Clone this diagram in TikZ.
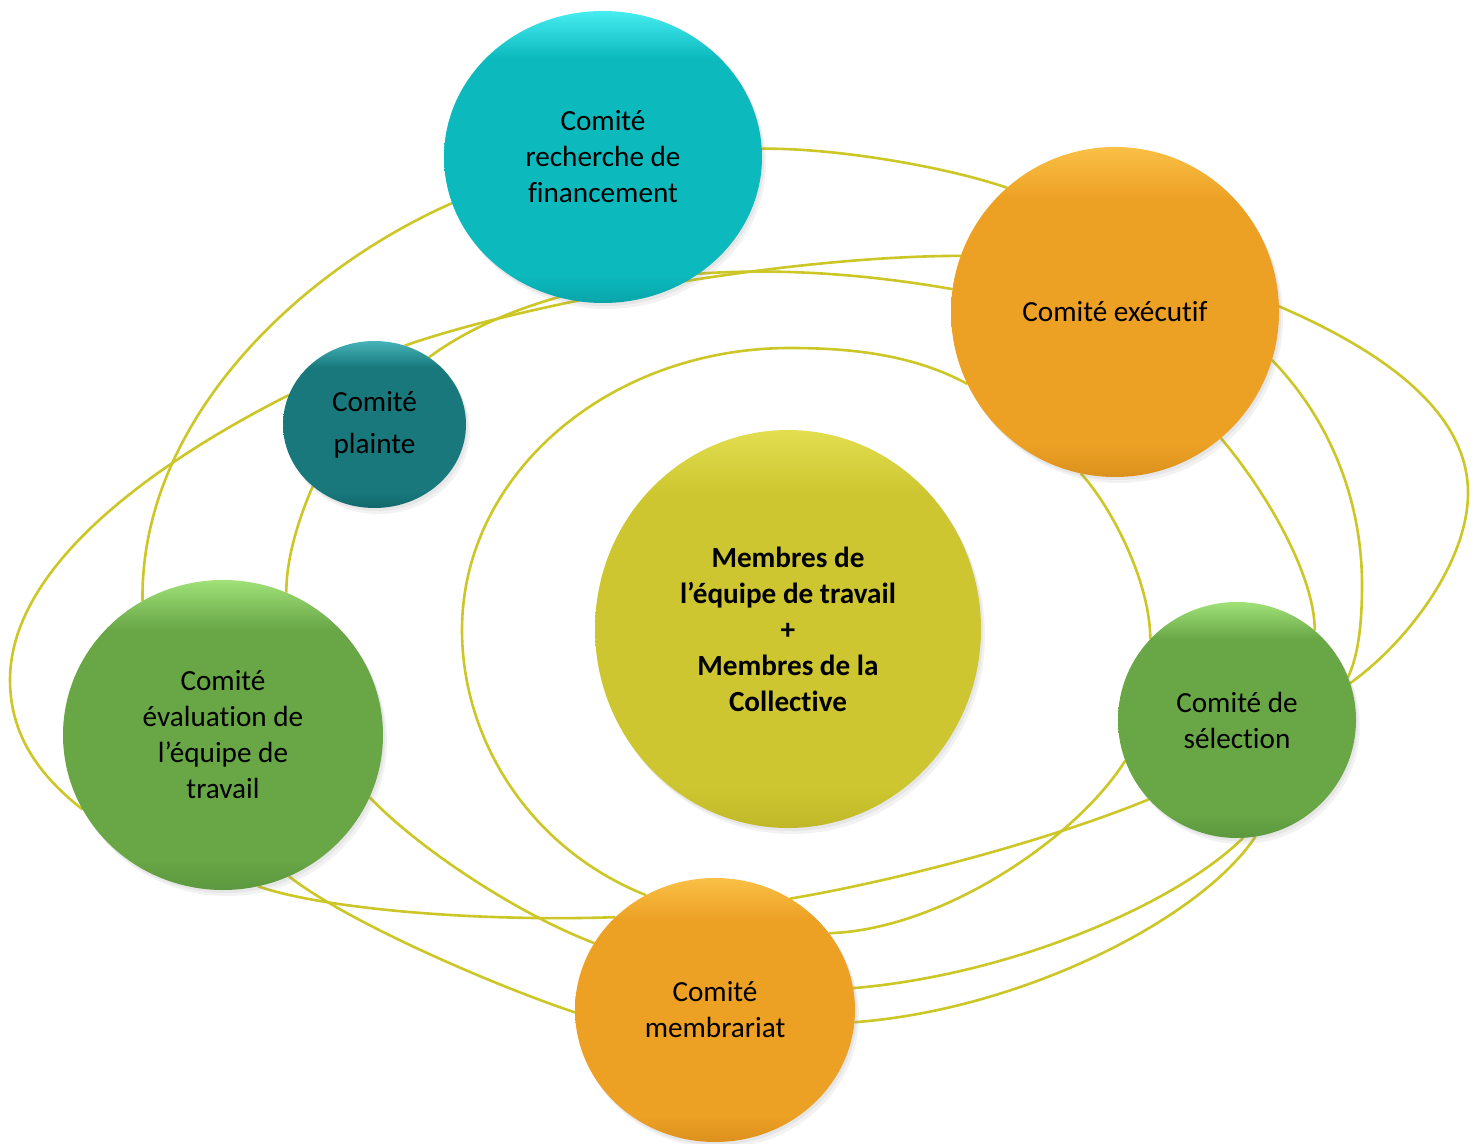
\documentclass[tikz,border=0pt]{standalone}
\usepackage{fontspec}
\setmainfont{Carlito}[Ligatures=NoCommon]
\usetikzlibrary{shapes.geometric,shadows,backgrounds}
\definecolor{lnkc}{RGB}{204,199,38}
\definecolor{cyM}{RGB}{12,186,190}
\definecolor{cyL}{RGB}{70,236,240}
\definecolor{cyD}{RGB}{8,165,170}
\definecolor{teM}{RGB}{24,120,124}
\definecolor{teL}{RGB}{70,180,185}
\definecolor{teD}{RGB}{18,104,108}
\definecolor{orM}{RGB}{236,160,36}
\definecolor{orL}{RGB}{250,192,70}
\definecolor{orD}{RGB}{220,145,30}
\definecolor{grM}{RGB}{104,166,70}
\definecolor{grL}{RGB}{160,225,120}
\definecolor{grD}{RGB}{92,152,62}
\definecolor{yeM}{RGB}{205,198,48}
\definecolor{yeL}{RGB}{226,222,80}
\definecolor{yeD}{RGB}{192,184,40}
\pgfdeclareverticalshading{shCy}{100bp}{color(0bp)=(cyD); color(25bp)=(cyD); color(30bp)=(cyM); color(67bp)=(cyM); color(75bp)=(cyL); color(100bp)=(cyL)}
\pgfdeclareverticalshading{shTe}{100bp}{color(0bp)=(teD); color(25bp)=(teD); color(30bp)=(teM); color(67bp)=(teM); color(75bp)=(teL); color(100bp)=(teL)}
\pgfdeclareverticalshading{shOr}{100bp}{color(0bp)=(orD); color(25bp)=(orD); color(30bp)=(orM); color(67bp)=(orM); color(75bp)=(orL); color(100bp)=(orL)}
\pgfdeclareverticalshading{shGr}{100bp}{color(0bp)=(grD); color(25bp)=(grD); color(30bp)=(grM); color(67bp)=(grM); color(75bp)=(grL); color(100bp)=(grL)}
\pgfdeclareverticalshading{shYe}{100bp}{color(0bp)=(yeD); color(25bp)=(yeD); color(30bp)=(yeM); color(67bp)=(yeM); color(75bp)=(yeL); color(100bp)=(yeL)}
\tikzset{
  circ/.style={ellipse, inner sep=0pt, outer sep=0pt, align=center, text=black,
    font=\fontsize{14.6}{18}\selectfont,
    drop shadow={opacity=0.10, shadow xshift=1pt, shadow yshift=-1.5pt},
    drop shadow={opacity=0.10, shadow xshift=2pt, shadow yshift=-3pt}},
  lnk/.style={draw=lnkc, line width=1.3pt},
}
\begin{document}
\begin{tikzpicture}[x=0.5pt, y=-0.5pt]
\useasboundingbox (0,0) rectangle (1478,1144);
% nodes
\node[circ, shade, shading=shCy, minimum width=159pt, minimum height=146pt] (rech) at (603,157) {Comité\\recherche de\\financement};
\node[circ, shade, shading=shOr, minimum width=164pt, minimum height=165pt] (exec) at (1115,312) {Comité exécutif};
\node[circ, shade, shading=shTe, minimum width=91.5pt, minimum height=83.5pt, font=\fontsize{14.6}{21}\selectfont] (plai) at (374.5,424.5) {Comité\\plainte};
\node[circ, shade, shading=shYe, minimum width=193pt, minimum height=199pt, font=\fontsize{14.6}{18}\selectfont\bfseries] (memb) at (788,629) {Membres de\\l’équipe de travail\\+\\Membres de la\\Collective};
\node[circ, shade, shading=shGr, minimum width=160pt, minimum height=155pt] (eval) at (223,735) {Comité\\évaluation de\\l’équipe de\\travail};
\node[circ, shade, shading=shGr, minimum width=119pt, minimum height=118pt] (sele) at (1237,720) {Comité de\\sélection};
\node[circ, shade, shading=shOr, minimum width=140pt, minimum height=132pt] (mbrt) at (715,1010) {Comité\\membrariat};
% connectors
\begin{scope}[on background layer]
\fill[white] (0,0) rectangle (1478,1144);
\draw[lnk] (rech.3) .. controls (840,148) and (950,168) .. (exec.131);
\draw[lnk] (rech.197) .. controls (300,270) and (140,420) .. (eval.121);
\draw[lnk] (plai.69) .. controls (520,305) and (780,256) .. (exec.160);
\draw[lnk] (plai.51) .. controls (520,290) and (700,245) .. (exec.172);
\draw[lnk] (plai.161) .. controls (170,455) and (10,560) .. (10,680) .. controls (10,740) and (45,780) .. (eval.208);
\draw[lnk] (plai.225) .. controls (298,520) and (286,560) .. (eval.66);
\draw[lnk] (exec.206) .. controls (914,355) and (853,348) .. (790,348) .. controls (609,348) and (462,474) .. (462,630) .. controls (462,740) and (530,849) .. (mbrt.121);
\draw[lnk] (exec.258) .. controls (1110,505) and (1150,580) .. (sele.137);
\draw[lnk] (exec.310) .. controls (1265,490) and (1315,575) .. (sele.49);
\draw[lnk] (exec.343) .. controls (1330,420) and (1362,500) .. (1362,585) .. controls (1362,630) and (1357,658) .. (sele.21);
\draw[lnk] (exec.2) .. controls (1380,350) and (1468,410) .. (1468,493) .. controls (1468,560) and (1410,640) .. (sele.18);
\draw[lnk] (sele.200) .. controls (1075,840) and (940,930) .. (mbrt.34);
\draw[lnk] (sele.222) .. controls (1050,840) and (900,880) .. (mbrt.56);
\draw[lnk] (sele.273) .. controls (1175,905) and (1010,975) .. (mbrt.9);
\draw[lnk] (sele.279) .. controls (1200,920) and (1020,1010) .. (mbrt.-5);
\draw[lnk] (eval.337) .. controls (420,850) and (520,915) .. (mbrt.151);
\draw[lnk] (eval.283) .. controls (320,908) and (470,922) .. (mbrt.137);
\draw[lnk] (eval.295) .. controls (344,920) and (490,984) .. (mbrt.181);
\end{scope}
\end{tikzpicture}
\end{document}
